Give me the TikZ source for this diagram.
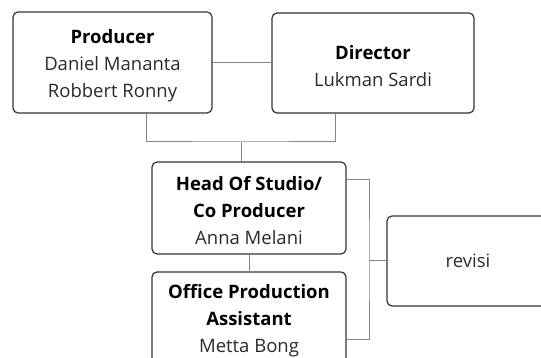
\documentclass[tikz,border=0pt]{standalone}
\usepackage{fontspec}
\setmainfont{Open Sans}
\usetikzlibrary{calc,positioning}
\definecolor{boxline}{HTML}{333333}
\definecolor{linkgray}{HTML}{858585}
\definecolor{txtgray}{HTML}{2A2A2A}
\tikzset{
  role/.style={draw=boxline, line width=1.2pt, rounded corners=5pt, align=center,
    text=txtgray, font=\fontsize{18.5}{27}\selectfont, inner sep=0pt},
  link/.style={draw=linkgray, line width=1pt},
}
\newcommand{\post}[1]{\rule{0pt}{20pt}\textcolor{black}{\textbf{#1}}}

\begin{document}
\begin{tikzpicture}[x=1pt,y=-1pt]
	\useasboundingbox (0,0) rectangle (541,358);
	\clip (0,0) rectangle (541,358);
	% Boxes
	\node [role, minimum width=199pt, minimum height=101pt] (prod) at (112.5,62.5) {\post{Producer}\\Daniel Mananta\\Robbert Ronny};
	\node [role, minimum width=202pt, minimum height=100pt] (dir) at (373,63) {\post{Director}\\Lukman Sardi};
	\node [role, minimum width=194pt, minimum height=92pt] (head) at (249,208) {\post{Head Of Studio/}\\\textcolor{black}{\textbf{Co Producer}}\\Anna Melani};
	\node [role, minimum width=194pt, minimum height=92pt] (office) at (249,318) {\post{Office Production}\\\textcolor{black}{\textbf{Assistant}}\\Metta Bong};
	\node [role, minimum width=162pt, minimum height=90pt] (revisi) at (468,261) {revisi};
	% Lines
	\coordinate (join) at (241,142);
	\coordinate (brk) at (369,261);
	\draw [link] (prod.east) -- (prod.east -| dir.west);
	\draw [link] ([xshift=33.5pt]prod.south) |- (join) -| ([xshift=-38pt]dir.south);
	\draw [link] (join) -- (join |- head.north);
	\draw [link] (head.south) -- (office.north);
	\draw [link] ([yshift=-18pt]head.north east) -| (brk) |- ([yshift=-68pt]office.north east);
	\draw [link] (brk) -- (revisi.west);
\end{tikzpicture}
\end{document}
